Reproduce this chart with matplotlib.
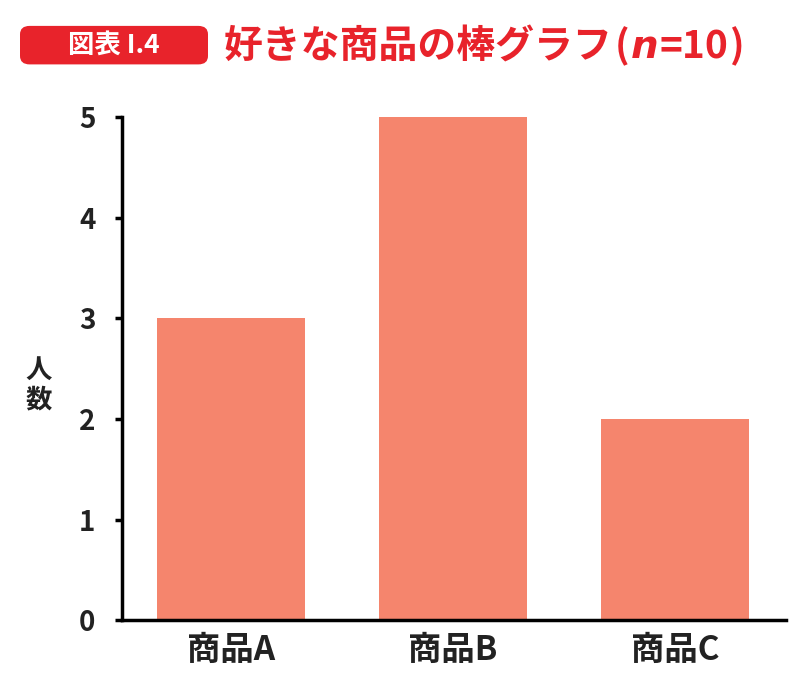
import matplotlib
matplotlib.use("Agg")
import matplotlib.pyplot as plt
from matplotlib.patches import FancyBboxPatch

plt.rcParams['font.family'] = ['Noto Sans CJK JP', 'DejaVu Sans']

categories = ["商品A", "商品B", "商品C"]
values = [3, 5, 2]
yticks = [0, 1, 2, 3, 4, 5]

red = "#E8232B"
bar_color = "#F5856D"

fig = plt.figure(figsize=(8, 7), dpi=100)
ax = fig.add_axes([0.1525, 0.114, 0.83, 0.719])
ax.bar(range(len(categories)), values, width=0.665, color=bar_color)
ax.set_xlim(-0.49, 2.5)
ax.set_ylim(0, 5)
ax.set_yticks(yticks)
ax.set_yticklabels([str(v) for v in yticks], fontsize=20, fontweight='bold', color='#222222')
ax.set_xticks(range(len(categories)))
ax.set_xticklabels(categories, fontsize=24, fontweight='bold', color='#222222')
ax.tick_params(axis='x', length=0, pad=10)
ax.tick_params(axis='y', length=5, width=2.5, pad=14)
for s in ['top', 'right']:
    ax.spines[s].set_visible(False)
ax.spines['left'].set_linewidth(2.5)
ax.spines['bottom'].set_linewidth(2.5)

fig.text(0.048, 0.45, "人\n数", fontsize=19, fontweight='bold', ha='center', va='center',
         linespacing=1.1, color='#222222')

box = FancyBboxPatch((0.025, 0.908), 0.235, 0.055, boxstyle="round,pad=0,rounding_size=0.012",
                     transform=fig.transFigure, facecolor=red, edgecolor='none')
fig.patches.append(box)
fig.text(0.1425, 0.935, "図表 I.4", fontsize=19, fontweight='bold', color='white', ha='center', va='center')

renderer = fig.canvas.get_renderer()
x = 0.28
pieces = [("好きな商品の棒グラフ", {}), ("(", {}),
          ("n", {'style': 'italic', 'family': 'DejaVu Sans'}), ("=10", {}), (")", {})]
for s, kw in pieces:
    t = fig.text(x, 0.933, s, fontsize=28, fontweight='bold', color=red, va='center', **kw)
    bb = t.get_window_extent(renderer)
    x += bb.width / fig.bbox.width + 0.002

fig.savefig("out.png", dpi=100)
